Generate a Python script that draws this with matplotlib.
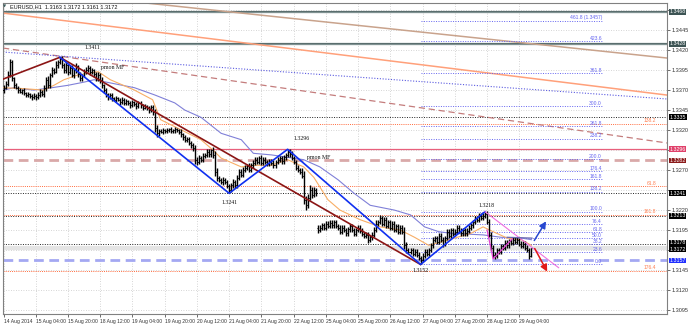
import matplotlib
matplotlib.use('Agg')
import matplotlib.pyplot as plt
import numpy as np

# ---------------- data ----------------
time_labels = ["14 Aug 2014", "15 Aug 04:00", "15 Aug 20:00", "18 Aug 12:00", "19 Aug 04:00",
               "19 Aug 20:00", "20 Aug 12:00", "21 Aug 04:00", "21 Aug 20:00", "22 Aug 12:00",
               "25 Aug 04:00", "25 Aug 20:00", "26 Aug 12:00", "27 Aug 04:00", "27 Aug 20:00",
               "28 Aug 12:00", "29 Aug 04:00"]
bars_per_label = 16

closes = [1.3373,1.3378,1.3389,1.3405,1.3385,1.3376,1.3373,1.3370,1.3368,1.3370,
          1.3366,1.3364,1.3365,1.3363,1.3361,1.3363,1.3361,1.3364,1.3368,1.3365,
          1.3373,1.3383,1.3376,1.3389,1.3395,1.3393,1.3401,1.3405,1.3409,1.3401,
          1.3395,1.3401,1.3393,1.3398,1.3389,1.3395,1.3400,1.3390,1.3385,1.3388,
          1.3393,1.3395,1.3398,1.3393,1.3395,1.3390,1.3385,1.3389,1.3383,1.3376,
          1.3370,1.3365,1.3361,1.3364,1.3360,1.3358,1.3360,1.3358,1.3355,1.3358,
          1.3354,1.3356,1.3354,1.3351,1.3355,1.3353,1.3350,1.3354,1.3351,1.3348,
          1.3350,1.3348,1.3345,1.3349,1.3343,1.3323,1.3316,1.3319,1.3318,1.3320,
          1.3319,1.3320,1.3321,1.3319,1.3320,1.3321,1.3320,1.3318,1.3315,1.3311,
          1.3308,1.3309,1.3304,1.3301,1.3298,1.3283,1.3280,1.3285,1.3283,1.3288,
          1.3289,1.3293,1.3290,1.3295,1.3289,1.3268,1.3260,1.3258,1.3255,1.3258,
          1.3255,1.3250,1.3245,1.3251,1.3255,1.3251,1.3260,1.3268,1.3264,1.3270,
          1.3273,1.3275,1.3270,1.3276,1.3279,1.3283,1.3280,1.3285,1.3279,1.3283,
          1.3280,1.3278,1.3281,1.3279,1.3276,1.3280,1.3283,1.3285,1.3281,1.3286,
          1.3289,1.3293,1.3290,1.3285,1.3280,1.3273,1.3270,1.3268,1.3263,1.3233,
          1.3226,1.3235,1.3245,1.3239,1.3245,1.3241,1.3195,1.3198,1.3201,1.3198,
          1.3203,1.3200,1.3204,1.3201,1.3205,1.3200,1.3198,1.3193,1.3198,1.3195,
          1.3191,1.3196,1.3200,1.3195,1.3190,1.3195,1.3198,1.3194,1.3190,1.3188,
          1.3189,1.3183,1.3186,1.3189,1.3195,1.3203,1.3205,1.3210,1.3203,1.3208,
          1.3200,1.3205,1.3198,1.3203,1.3195,1.3200,1.3193,1.3198,1.3193,1.3176,
          1.3170,1.3168,1.3170,1.3165,1.3168,1.3164,1.3160,1.3158,1.3163,1.3168,
          1.3165,1.3170,1.3176,1.3183,1.3185,1.3180,1.3188,1.3183,1.3178,1.3185,
          1.3193,1.3188,1.3195,1.3190,1.3193,1.3198,1.3194,1.3191,1.3195,1.3191,
          1.3194,1.3198,1.3201,1.3205,1.3210,1.3208,1.3213,1.3210,1.3213,1.3215,
          1.3205,1.3189,1.3173,1.3164,1.3163,1.3170,1.3168,1.3175,1.3173,1.3179,
          1.3176,1.3181,1.3179,1.3183,1.3180,1.3183,1.3178,1.3175,1.3178,1.3173,
          1.3170,1.3163,1.3172]
first_open = 1.3370
gap_bar, gap_open = 156, 1.3197   # Monday 25 Aug gap
upper_wick_pips = [3,4,5,4,3,2,3,2,3,2,
                   3,2,3,2,2,3,2,4,3,2,
                   4,3,5,3,4,3,5,3,2,4,
                   3,4,2,3,4,3,4,2,3,2,
                   3,4,3,2,3,2,3,4,2,3,
                   2,3,2,3,2,2,3,2,2,3,
                   2,3,2,2,3,2,2,3,2,2,
                   3,2,2,3,2,4,3,3,2,3,
                   2,3,2,3,2,3,2,2,3,2,
                   3,2,3,2,3,4,3,4,3,3,
                   3,4,3,2,4,5,4,3,2,3,
                   2,3,2,3,4,3,4,3,3,4,
                   3,3,4,3,3,4,3,3,4,3,
                   3,3,3,3,3,3,3,3,3,3,
                   3,3,3,4,3,3,3,3,4,6,
                   4,5,6,4,4,3,4,3,3,3,
                   3,3,3,3,3,3,3,3,3,3,
                   3,3,3,3,3,3,3,3,3,3,
                   3,3,3,3,4,4,3,4,3,3,
                   3,3,3,3,3,3,3,3,3,6,
                   4,3,3,3,3,3,3,3,3,3,
                   3,3,3,3,3,3,3,3,3,3,
                   3,3,3,3,3,3,3,3,3,3,
                   3,3,3,3,3,3,3,3,3,3,
                   4,4,3,3,3,3,3,3,3,3,
                   3,3,3,3,3,3,3,3,3,3,
                   3,3,0]
lower_wick_pips = [3,2,3,3,4,3,2,3,2,3,
                   2,3,2,3,3,2,3,2,3,2,
                   3,4,3,3,2,3,2,3,2,3,
                   4,3,4,3,3,4,3,4,3,3,
                   2,3,2,4,3,3,4,3,4,3,
                   4,3,3,2,3,2,3,2,3,2,
                   3,2,3,3,2,3,3,2,3,3,
                   2,3,3,2,4,5,4,3,2,3,
                   2,3,2,3,2,3,2,3,3,3,
                   3,3,3,3,4,5,4,3,3,3,
                   3,3,3,3,4,5,4,3,3,4,
                   3,3,4,3,3,3,3,3,3,3,
                   3,3,3,3,3,3,3,3,3,3,
                   3,3,3,3,3,3,3,3,3,3,
                   3,3,3,3,3,3,3,3,3,5,
                   6,4,3,4,3,3,4,3,3,3,
                   3,3,3,3,3,3,3,3,3,3,
                   3,3,3,3,3,3,3,3,3,3,
                   3,4,3,3,3,3,3,3,3,3,
                   3,3,3,3,3,3,3,3,3,5,
                   4,3,3,3,3,3,3,6,3,3,
                   3,3,3,3,3,3,3,3,4,3,
                   3,3,3,3,3,3,3,3,3,3,
                   3,3,3,3,3,3,3,3,3,3,
                   3,3,4,4,4,3,3,3,3,3,
                   3,3,3,3,3,3,3,3,3,3,
                   3,4,2]

ma_fast_bar = [0,9,20,25,30,37,47,53,65,74,78,98,104,108,118,124,133,141,149,154,
               161,167,177,187,197,204,211,217,232,238,243,250,257,262]
ma_fast = [1.3373,1.3372,1.3370,1.3376,1.3383,1.3389,1.3393,1.3383,1.3370,1.3358,
           1.3333,1.3308,1.3295,1.3285,1.3274,1.3276,1.3276,1.3283,1.3274,1.3261,
           1.3233,1.3220,1.3208,1.3199,1.3195,1.3186,1.3176,1.3180,1.3191,1.3199,
           1.3193,1.3185,1.3183,1.3176]
ma_slow_bar = [0,5,15,24,32,40,45,53,65,75,85,90,98,108,118,124,133,141,149,157,
               166,174,182,194,202,209,216,222,238,247,257,262]
ma_slow = [1.3370,1.3373,1.3370,1.3373,1.3376,1.3380,1.3383,1.3379,1.3373,1.3364,
           1.3354,1.3345,1.3336,1.3316,1.3308,1.3291,1.3289,1.3286,1.3283,1.3274,
           1.3258,1.3241,1.3226,1.3220,1.3214,1.3199,1.3193,1.3191,1.3189,1.3186,
           1.3185,1.3183]

zz_blue_bar = [28, 112, 141, 207, 239]
zz_blue = [1.3411, 1.3241, 1.3296, 1.3152, 1.3218]
zz_maroon_bar = [-1, 28, 207]
zz_maroon = [1.3383, 1.3411, 1.3152]

swing_labels = ["1.3411", "1.3241", "1.3296", "1.3152", "1.3218"]
swing_label_bar = [44, 112, 148, 207, 240]
swing_label_price = [1.3423, 1.3229, 1.3310, 1.3144, 1.3226]

# sloped trend lines: (bar0, price0, bar1, price1)
tl_orange = (-0.25, 1.34663, 329.3, 1.33638)
tl_tan = (61.3, 1.34814, 329.3, 1.34101)
tl_rosy = (-0.25, 1.34226, 329.3, 1.33039)
tl_bluedot = (-0.25, 1.34176, 329.3, 1.33589)

level_gray = [1.3468, 1.3428]
level_black_dot = [1.3336, 1.3241, 1.3213, 1.3178]
level_orange_dot = [1.3328, 1.3250, 1.3214, 1.3144]
orange_dot_labels = ["138.2", "61.8", "161.8", "176.4"]
level_red = 1.3296
level_rosy_dash = 1.3282
level_blue_dash = 1.3157
last_price = 1.3172

fib_low, fib_high = 1.3152, 1.3218
fib_ratios = [0.0, 23.6, 38.2, 50.0, 61.8, 76.4, 100.0, 138.2, 161.8, 176.4,
              200.0, 238.2, 261.8, 300.0, 361.8, 423.6, 461.8]
fib_bar0, fib_bar1 = 207, 297

pink_long_bar = [239, 275.5]
pink_long = [1.3218, 1.3148]
pink_zz_bar = [240, 243, 252.5]
pink_zz = [1.3195, 1.3159, 1.3184]
slate_bar = [250, 262.3]
slate = [1.3186, 1.3185]
arrow_up = (262.7, 1.3179, 270, 1.3209)
arrow_dn = (263, 1.3175, 270.5, 1.3140)

axis_ticks = [1.3095, 1.3120, 1.3145, 1.3170, 1.3195, 1.3220, 1.3245, 1.3270, 1.3295,
              1.3320, 1.3345, 1.3370, 1.3395, 1.3420, 1.3445, 1.3470]
hidden_tick_labels = [1.3170, 1.3245, 1.3295, 1.3470]   # covered by the price boxes
boxes = [(1.3468, "1.3468", '#3d5454'), (1.3428, "1.3428", '#3d5454'),
         (1.3336, "1.3335", 'black'), (1.3296, "1.3296", '#e0406a'),
         (1.3282, "1.3282", '#8b1a1a'), (1.3241, "1.3241", 'black'),
         (1.3213, "1.3213", 'black'), (1.3179, "1.3178", 'black'),
         (1.3171, "1.3172", 'black'), (1.3157, "1.3157", '#2030ff')]

header = "EURUSD,H1  1.3163 1.3172 1.3161 1.3172"

# ---------------- plotting ----------------
W, H = 688, 324
fig = plt.figure(figsize=(W / 100, H / 100), dpi=100)
fig.patch.set_facecolor('white')
ax = fig.add_axes([3 / W, 10 / H, 664 / W, 311 / H])
ax.set_xlim(-0.25, 329.3)
ax.set_ylim(1.30901, 1.34789)

SANS = ['Liberation Sans', 'DejaVu Sans']
SERIF = ['Liberation Serif', 'DejaVu Serif']

# grid
ax.set_yticks(axis_ticks)
xt = np.arange(len(time_labels)) * bars_per_label
ax.set_xticks(xt)
ax.grid(True, color='#c8c8c8', lw=0.6, linestyle=(0, (1, 2)))
ax.set_axisbelow(True)

ax.yaxis.tick_right()
ax.set_yticklabels(["" if any(abs(v - h) < 1e-6 for h in hidden_tick_labels) else f"{v:.4f}"
                    for v in axis_ticks], fontsize=4, family=SANS)
ax.tick_params(axis='y', length=2, pad=1.5, width=0.5, colors='#333333')
ax.set_xticklabels(time_labels, fontsize=3.6, family=SANS, ha='left')
ax.tick_params(axis='x', length=2, pad=1.5, width=0.5, colors='#333333')
for s in ax.spines.values():
    s.set_color('#808080')
    s.set_linewidth(0.8)

xmin, xmax = ax.get_xlim()

# horizontal levels
for v in level_gray:
    ax.axhline(v, color='#5a6e6e', lw=1.6, zorder=2)
    ax.axhline(v, color='#9fb0b0', lw=0.4, zorder=2)
ax.axhline(last_price, color='#e4e4e4', lw=3, zorder=1)
for v in level_black_dot:
    ax.axhline(v, color='#222222', lw=0.7, linestyle=(0, (1, 1.5)), zorder=2)
for v, t in zip(level_orange_dot, orange_dot_labels):
    ax.axhline(v, color='#ff6a3c', lw=0.7, linestyle=(0, (1, 1.2)), zorder=2)
    ax.text(324, v + 0.00005, t, fontsize=3.6, color='#ff7f50', ha='right', va='bottom', family=SANS)
ax.axhline(level_red, color='#e8607c', lw=0.9, zorder=2)
ax.axhline(level_rosy_dash, color='#d9a9a9', lw=2.0, linestyle=(0, (3.5, 2)), zorder=2)
ax.axhline(level_blue_dash, color='#a4a8f2', lw=2.0, linestyle=(0, (3.5, 2)), zorder=2)

# sloped trend lines
def tl(p, **kw):
    ax.plot([p[0], p[2]], [p[1], p[3]], **kw)
slope = (tl_tan[3] - tl_tan[1]) / (tl_tan[2] - tl_tan[0])
ax.plot([xmin, tl_tan[2]], [tl_tan[1] + slope * (xmin - tl_tan[0]), tl_tan[3]], color='#c9a38c', lw=1.1, zorder=2)
tl(tl_orange, color='#ffa07a', lw=1.1, zorder=2)
tl(tl_rosy, color='#c47c7c', lw=0.9, linestyle=(0, (5, 3)), zorder=2)
tl(tl_bluedot, color='#5a5ae0', lw=0.8, linestyle=(0, (1, 1.5)), zorder=2)

# fibonacci
rng = fib_high - fib_low
for r in fib_ratios:
    v = fib_low + rng * r / 100
    ax.plot([fib_bar0, fib_bar1], [v, v], color='#6464f0', lw=0.7, linestyle=(0, (1, 1.5)), zorder=2)
    t = f"{r:.1f}" if r != 461.8 else f"{r:.1f} ({v:.4f})"
    ax.text(fib_bar1, v + 0.00004, t, fontsize=3.6, color='#6464f0', ha='right', va='bottom', family=SANS)

# bars
xb = np.arange(len(closes))
c = np.array(closes)
o = np.r_[first_open, c[:-1]]
o[gap_bar] = gap_open
hi = np.maximum(o, c) + np.array(upper_wick_pips) * 1e-4
lo = np.minimum(o, c) - np.array(lower_wick_pips) * 1e-4
ax.vlines(xb, lo, hi, color='black', lw=1.0, zorder=4)
ax.hlines(o, xb - 0.5, xb, color='black', lw=0.7, zorder=4)
ax.hlines(c, xb, xb + 0.5, color='black', lw=0.7, zorder=4)

# moving averages
ax.plot(ma_slow_bar, ma_slow, color='#8080d8', lw=0.8, zorder=3)
ax.plot(ma_fast_bar, ma_fast, color='#f8ae66', lw=0.8, zorder=3)

# zigzags
ax.plot(zz_maroon_bar, zz_maroon, color='#8b1515', lw=1.2, zorder=5)
ax.plot(zz_blue_bar, zz_blue, color='#1030f0', lw=1.2, zorder=5)
ax.plot(pink_long_bar, pink_long, color='#f070e0', lw=0.8, zorder=5)
ax.plot(pink_zz_bar, pink_zz, color='#e040d0', lw=0.9, zorder=5)
ax.plot(slate_bar, slate, color='#6a6ab0', lw=0.9, zorder=5)
ax.annotate('', xy=arrow_up[2:], xytext=arrow_up[:2],
            arrowprops=dict(arrowstyle='-|>,head_length=0.4,head_width=0.2', color='#2848d0', lw=1.1), zorder=6)
ax.annotate('', xy=arrow_dn[2:], xytext=arrow_dn[:2],
            arrowprops=dict(arrowstyle='-|>,head_length=0.4,head_width=0.2', color='#e01818', lw=1.1), zorder=6)

# swing labels
for t, b, p in zip(swing_labels, swing_label_bar, swing_label_price):
    ax.text(b, p, t, fontsize=4.2, ha='center', va='center', family=SERIF, color='#111111', zorder=7)
for b, p in [(48.5, 1.3395), (150.5, 1.3282)]:
    ax.text(b, p, "pmon MF", fontsize=4.2, ha='left', va='bottom', family=SERIF, color='#111111', zorder=7)

# price boxes on right axis
ytr = ax.get_yaxis_transform()
for v, t, col in boxes:
    ax.text(1.004, v, t, transform=ytr, fontsize=3.8, color='white', family=SANS,
            ha='left', va='center', clip_on=False, zorder=10,
            bbox=dict(facecolor=col, edgecolor='none', pad=0.25))

# header
fig.text(10 / W, 1 - 6.5 / H, header, fontsize=4, family=SANS, va='center', ha='left', color='#111111')
fig.text(4.5 / W, 1 - 6.5 / H, "\u25BC", fontsize=3, va='center', ha='center', color='#406060')

fig.savefig('out.png', dpi=100)
